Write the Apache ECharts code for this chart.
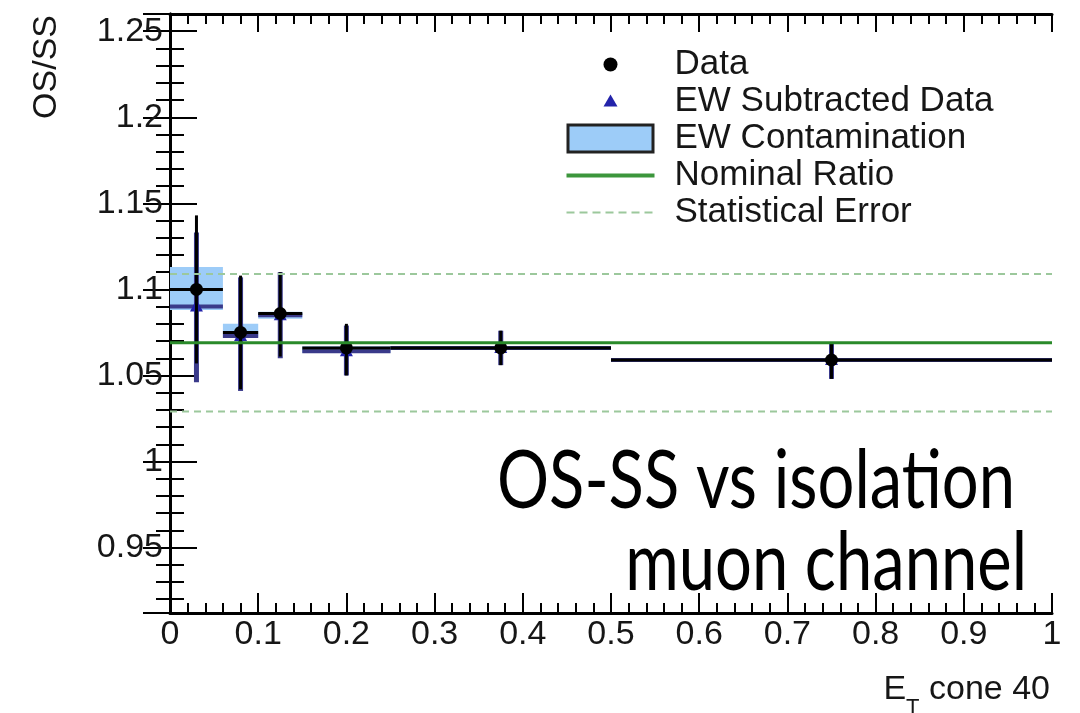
<!DOCTYPE html>
<html><head><meta charset="utf-8">
<script src="https://cdn.jsdelivr.net/npm/echarts@6/dist/echarts.min.js"></script>
<style>html,body{margin:0;padding:0;background:#fff;}#c{width:1080px;height:713px;}</style>
</head><body><div id="c"></div>
<script>
// ---- data ----
const binLow      = [0.00, 0.06, 0.10, 0.15, 0.25, 0.50];
const binHigh     = [0.06, 0.10, 0.15, 0.25, 0.50, 1.00];
const binCenter   = [0.03, 0.08, 0.125, 0.20, 0.375, 0.75];
const dataRatio   = [1.100, 1.075, 1.086, 1.066, 1.066, 1.059];
const dataErrLow  = [1.057, 1.042, 1.061, 1.050, 1.056, 1.048];
const dataErrHigh = [1.143, 1.108, 1.110, 1.080, 1.076, 1.069];
const subRatio    = [1.090, 1.073, 1.085, 1.064, 1.066, 1.059];
const subErrLow   = [1.046, 1.041, 1.060, 1.050, 1.056, 1.048];
const subErrHigh  = [1.133, 1.107, 1.110, 1.079, 1.076, 1.069];
const ewLow       = [1.088, 1.072, 1.083, 1.063, 1.065, 1.058];
const ewHigh      = [1.113, 1.080, 1.087, 1.067, 1.067, 1.059];
const nominalRatio = [1.069];
const statErrBand  = [1.029, 1.109];
const xTickLabels = ['0','0.1','0.2','0.3','0.4','0.5','0.6','0.7','0.8','0.9','1'];
const yTickLabels = ['0.95','1','1.05','1.1','1.15','1.2','1.25'];
const legendNames = ['Data','EW Subtracted Data','EW Contamination','Nominal Ratio','Statistical Error'];
const overlayLines = ['OS-SS vs isolation', 'muon channel'];

// ---- build ----
const FONT = 'Liberation Sans';
function labelFor(list) {
  return function (v) {
    for (const s of list) { if (Math.abs(Number(s) - v) < 1e-6) return s; }
    return '';
  };
}
const rows = binCenter.map((c, i) => [c, dataRatio[i], binLow[i], binHigh[i], dataErrLow[i], dataErrHigh[i]]);
const subRows = binCenter.map((c, i) => [c, subRatio[i], binLow[i], binHigh[i], subErrLow[i], subErrHigh[i]]);
const ewRows = binCenter.map((c, i) => [binLow[i], ewLow[i], binHigh[i], ewHigh[i]]);

function errItem(api, col, hw, vw, marker) {
  const y = api.value(1);
  const l = api.coord([api.value(2), y]);
  const r = api.coord([api.value(3), y]);
  const c = api.coord([api.value(0), y]);
  const t = api.coord([api.value(0), api.value(5)]);
  const b = api.coord([api.value(0), api.value(4)]);
  const ch = [
    {type: 'line', shape: {x1: l[0], y1: l[1], x2: r[0], y2: r[1]}, style: {stroke: col, lineWidth: hw}},
    {type: 'line', shape: {x1: t[0], y1: t[1], x2: b[0], y2: b[1]}, style: {stroke: col, lineWidth: vw}}
  ];
  if (marker === 'circle') ch.push({type: 'circle', shape: {cx: c[0], cy: c[1], r: 6.5}, style: {fill: '#000'}});
  else ch.push({type: 'polygon', shape: {points: [[c[0], c[1] - 7], [c[0] + 6.5, c[1] + 5], [c[0] - 6.5, c[1] + 5]]}, style: {fill: '#2323aa'}});
  return {type: 'group', children: ch};
}

const box = 'M0,0M103,30';
const dashIcon = 'path://' + box + [0, 13, 26, 39, 52, 65, 78].map(x => `M${x},14h8v2h-8z`).join('');

const OVF = '82px Lato';
const ctx = document.createElement('canvas').getContext('2d');
ctx.font = OVF;
const sx = 518 / ctx.measureText(overlayLines[0]).width;

const chart = echarts.init(document.getElementById('c'), null, {renderer: 'canvas'});
const axisLineStyle = {color: '#000', width: 3};
const tickStyle = {color: '#000', width: 2};
chart.setOption({
  animation: false,
  backgroundColor: '#fff',
  grid: {left: 170, right: 28, top: 14, bottom: 100, containLabel: false, outerBoundsMode: 'none'},
  xAxis: [
    {type: 'value', position: 'bottom', min: 0, max: 1, interval: 0.1,
     axisLine: {lineStyle: axisLineStyle}, splitLine: {show: false},
     axisTick: {inside: true, length: 20, lineStyle: tickStyle},
     minorTick: {show: true, splitNumber: 5, length: 10, lineStyle: tickStyle},
     axisLabel: {fontSize: 34, fontFamily: FONT, color: '#161616', margin: 5, formatter: labelFor(xTickLabels)},
     name: '{e|E}{s|T}{n| cone 40}', nameLocation: 'end', nameGap: -2,
     nameTextStyle: {align: 'right', verticalAlign: 'top', padding: [60, 0, 0, 0],
       rich: {e: {fontSize: 34, fontFamily: FONT, color: '#161616', verticalAlign: 'top'},
              s: {fontSize: 22, fontFamily: FONT, color: '#161616', verticalAlign: 'top', padding: [24, 0, 0, 0]},
              n: {fontSize: 34, fontFamily: FONT, color: '#161616', verticalAlign: 'top'}}}},
    {type: 'value', position: 'top', min: 0, max: 1, interval: 0.1,
     axisLine: {lineStyle: axisLineStyle}, splitLine: {show: false},
     axisTick: {inside: true, length: 18, lineStyle: tickStyle},
     minorTick: {show: true, splitNumber: 5, length: 10, lineStyle: tickStyle},
     axisLabel: {show: false}}
  ],
  yAxis: [
    {type: 'value', position: 'left', min: 0.912, max: 1.26, splitNumber: 7,
     axisLine: {lineStyle: axisLineStyle}, splitLine: {show: false},
     axisTick: {inside: true, length: 27, lineStyle: tickStyle},
     minorTick: {show: true, splitNumber: 5, length: 14, lineStyle: tickStyle},
     axisLabel: {fontSize: 34, fontFamily: FONT, color: '#161616', margin: 7, showMinLabel: false, showMaxLabel: false, formatter: labelFor(yTickLabels)},
     name: 'OS/SS', nameLocation: 'end', nameGap: -1, nameRotate: 90,
     nameTextStyle: {fontSize: 34, fontFamily: FONT, color: '#161616', align: 'right', verticalAlign: 'bottom', padding: [0, 0, 106, 0]}},
    {type: 'value', position: 'right', min: 0.912, max: 1.26, splitNumber: 7,
     axisLine: {lineStyle: axisLineStyle}, splitLine: {show: false},
     axisTick: {inside: true, length: 27, lineStyle: tickStyle},
     minorTick: {show: true, splitNumber: 5, length: 14, lineStyle: tickStyle},
     axisLabel: {show: false}}
  ],
  legend: {
    orient: 'vertical', left: 565, top: 47, padding: 0, itemGap: 2, itemWidth: 103, itemHeight: 30,
    selectedMode: false,
    textStyle: {fontSize: 35, fontFamily: FONT, color: '#161616', lineHeight: 30},
    data: [
      {name: legendNames[0], icon: 'path://' + box + 'M37,15a7,7 0 1,0 14,0a7,7 0 1,0 -14,0z', itemStyle: {color: '#000', borderWidth: 0}},
      {name: legendNames[1], icon: 'path://' + box + 'M44,8L51,20L37,20Z', itemStyle: {color: '#2323aa', borderWidth: 0}},
      {name: legendNames[2], icon: 'path://' + box + 'M1.5,1.5L86.5,1.5L86.5,28.5L1.5,28.5Z', itemStyle: {color: '#9dccf8', borderColor: '#222', borderWidth: 3}},
      {name: legendNames[3], icon: 'path://' + box + 'M0,13L88,13L88,17L0,17Z', itemStyle: {color: '#3c963c', borderWidth: 0}},
      {name: legendNames[4], icon: dashIcon, itemStyle: {color: '#9cc89c', borderWidth: 0}}
    ]
  },
  graphic: [
    {type: 'text', x: 1015, y: 482, scaleX: sx, z: 50,
     style: {text: overlayLines[0], font: OVF, fill: '#000', align: 'right', verticalAlign: 'middle'}},
    {type: 'text', x: 1027, y: 564, scaleX: sx, z: 50,
     style: {text: overlayLines[1], font: OVF, fill: '#000', align: 'right', verticalAlign: 'middle'}}
  ],
  series: [
    {name: legendNames[4], type: 'line', data: [[0, statErrBand[1]], [1, statErrBand[1]]], symbol: 'none',
     lineStyle: {color: '#9cc89c', width: 2, type: [7, 5]}, itemStyle: {color: '#9cc89c'}},
    {name: legendNames[4], type: 'line', data: [[0, statErrBand[0]], [1, statErrBand[0]]], symbol: 'none',
     lineStyle: {color: '#9cc89c', width: 2, type: [7, 5]}, itemStyle: {color: '#9cc89c'}},
    {name: legendNames[3], type: 'line', data: [[0, nominalRatio[0]], [1, nominalRatio[0]]], symbol: 'none',
     lineStyle: {color: '#2a8a2a', width: 3}, itemStyle: {color: '#2a8a2a'}},
    {name: legendNames[2], type: 'custom', data: ewRows, encode: {x: [0, 2], y: [1, 3]}, itemStyle: {color: '#9dccf8'},
     renderItem: function (p, api) {
       const a = api.coord([api.value(0), api.value(3)]);
       const b = api.coord([api.value(2), api.value(1)]);
       return {type: 'rect', shape: {x: a[0], y: a[1], width: b[0] - a[0], height: Math.max(1, b[1] - a[1])}, style: {fill: '#9dccf8'}};
     }},
    {name: legendNames[1], type: 'custom', data: subRows, encode: {x: 0, y: 1}, itemStyle: {color: '#2323aa'},
     renderItem: function (p, api) { return errItem(api, '#3a3a8a', 4, 5, 'triangle'); }},
    {name: legendNames[0], type: 'custom', data: rows, encode: {x: 0, y: 1}, itemStyle: {color: '#000'},
     renderItem: function (p, api) { return errItem(api, '#000', 3, 3, 'circle'); }}
  ]
});
</script></body></html>
